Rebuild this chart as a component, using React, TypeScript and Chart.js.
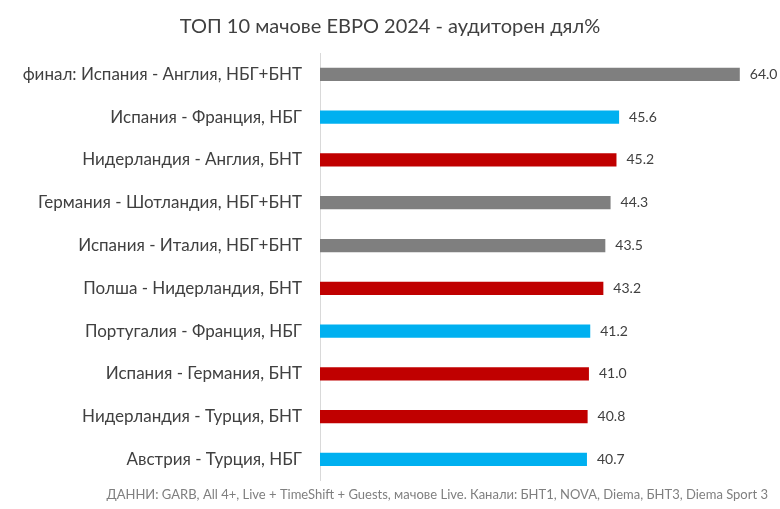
import React, { useEffect, useRef } from 'react';
import { Chart, registerables } from 'chart.js';

Chart.register(...registerables);

const titleText = 'ТОП 10 мачове ЕВРО 2024 - аудиторен дял%';
const footerText = 'ДАННИ: GARB, All 4+, Live + TimeShift + Guests, мачове Live. Канали: БНТ1, NOVA, Diema, БНТ3, Diema Sport 3';

const matches = [
  'финал: Испания - Англия, НБГ+БНТ',
  'Испания - Франция, НБГ',
  'Нидерландия - Англия, БНТ',
  'Германия - Шотландия, НБГ+БНТ',
  'Испания - Италия, НБГ+БНТ',
  'Полша - Нидерландия, БНТ',
  'Португалия - Франция, НБГ',
  'Испания - Германия, БНТ',
  'Нидерландия - Турция, БНТ',
  'Австрия - Турция, НБГ',
];
const share = [64.0, 45.6, 45.2, 44.3, 43.5, 43.2, 41.2, 41.0, 40.8, 40.7];
const channel = ['НБГ+БНТ', 'НБГ', 'БНТ', 'НБГ+БНТ', 'НБГ+БНТ', 'БНТ', 'НБГ', 'БНТ', 'БНТ', 'НБГ'];

const channelColor: Record<string, string> = {
  'НБГ+БНТ': '#7f7f7f',
  'НБГ': '#00b0f0',
  'БНТ': '#c00000',
};

const FONT = 'Lato, "Open Sans", sans-serif';

const valueLabels = {
  id: 'valueLabels',
  afterDatasetsDraw(chart: Chart) {
    const ctx = chart.ctx;
    const meta = chart.getDatasetMeta(0);
    ctx.save();
    ctx.font = `14px ${FONT}`;
    ctx.fillStyle = '#404040';
    ctx.textAlign = 'left';
    ctx.textBaseline = 'middle';
    meta.data.forEach((bar: any, i: number) => {
      ctx.fillText(share[i].toFixed(1), bar.x + 10, bar.y);
    });
    ctx.restore();
  },
};

const footer = {
  id: 'footer',
  afterDraw(chart: Chart) {
    const ctx = chart.ctx;
    ctx.save();
    ctx.font = `13px ${FONT}`;
    ctx.fillStyle = '#7f7f7f';
    ctx.textAlign = 'right';
    ctx.textBaseline = 'middle';
    ctx.fillText(footerText, chart.width - 12, 495);
    ctx.restore();
  },
};

function ShareChart() {
  const canvasRef = useRef<HTMLCanvasElement>(null);
  const chartRef = useRef<Chart | null>(null);

  useEffect(() => {
    if (!canvasRef.current) return;
    if (chartRef.current) chartRef.current.destroy();

    chartRef.current = new Chart(canvasRef.current, {
      type: 'bar',
      data: {
        labels: matches,
        datasets: [{
          data: share,
          backgroundColor: channel.map(c => channelColor[c]),
          categoryPercentage: 1,
          barPercentage: 0.31,
        }],
      },
      options: {
        indexAxis: 'y' as const,
        animation: false,
        responsive: true,
        maintainAspectRatio: false,
        layout: { padding: { left: 12, right: 12, top: 0, bottom: 28 } },
        scales: {
          x: {
            display: false,
            min: 0,
            max: 68.3,
          },
          y: {
            grid: { display: false, drawTicks: false },
            border: { display: true, color: '#d9d9d9', width: 1 },
            ticks: { color: '#404040', padding: 18, font: { size: 17, family: FONT } },
            afterFit: (scale: any) => { scale.width = 308; },
          },
        },
        plugins: {
          legend: { display: false },
          tooltip: { enabled: false },
          title: {
            display: true,
            text: titleText,
            color: '#404040',
            font: { size: 20, family: FONT, weight: 'normal' },
            padding: { top: 15, bottom: 14 },
          },
        },
      },
      plugins: [valueLabels, footer],
    });

    return () => { if (chartRef.current) chartRef.current.destroy(); };
  }, []);

  return <canvas ref={canvasRef} />;
}

export default function App() {
  useEffect(() => { document.body.style.margin = '0'; }, []);
  return (
    <div style={{ width: 780, height: 509, background: '#fff' }}>
      <ShareChart />
    </div>
  );
}
